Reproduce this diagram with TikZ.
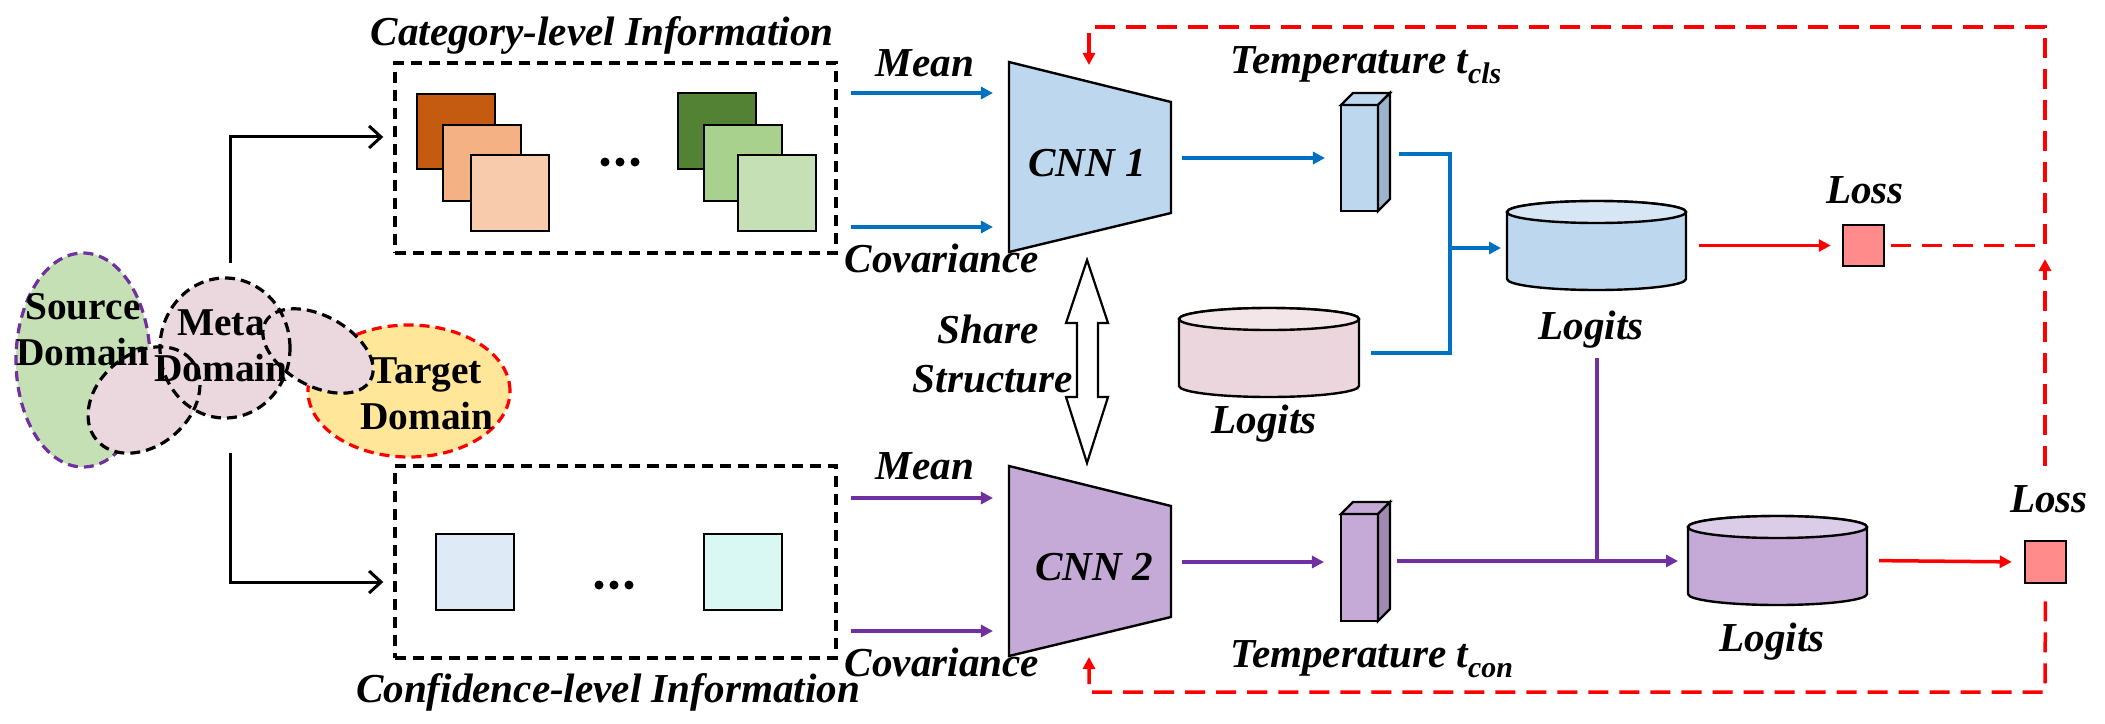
\documentclass[tikz,border=0pt]{standalone}
\usepackage{fontspec}
\setmainfont{Liberation Serif}
\usetikzlibrary{fit,arrows.meta,calc,shapes.geometric}
\definecolor{lblue}{HTML}{0070C0}
\definecolor{lpurple}{HTML}{7030A0}
\definecolor{or1}{HTML}{C55A11}
\definecolor{or2}{HTML}{F4B183}
\definecolor{or3}{HTML}{F8CBAD}
\definecolor{gr1}{HTML}{548235}
\definecolor{gr2}{HTML}{A9D18E}
\definecolor{gr3}{HTML}{C5E0B4}
\definecolor{sqa}{HTML}{DEEBF7}
\definecolor{sqb}{HTML}{DAF8F3}
\definecolor{srcg}{HTML}{C5E0B4}
\definecolor{tgty}{HTML}{FFE699}
\definecolor{metap}{HTML}{EBD8DE}
\definecolor{cnnb}{HTML}{BDD7EE}
\definecolor{cnnp}{HTML}{C5AAD7}
\definecolor{sideb}{HTML}{9CB3CB}
\definecolor{sidep}{HTML}{A08AB2}
\definecolor{pinkc}{HTML}{EAD6DC}
\definecolor{pinkt}{HTML}{F2E6E9}
\definecolor{bluet}{HTML}{D7E6F4}
\definecolor{purpt}{HTML}{DBCCE8}
\definecolor{lossr}{HTML}{FF8B8B}
\begin{document}
\begin{tikzpicture}[x=0.01cm,y=0.01cm,
  lbl/.style={font=\fontsize{11.7}{14}\selectfont\bfseries\itshape, inner sep=0pt},
  dom/.style={font=\fontsize{11.2}{13.1}\selectfont\bfseries, align=center, inner sep=0pt},
  dbox/.style={draw, line width=0.034cm, dash pattern=on 0.11cm off 0.07cm, inner sep=0pt},
  sqr/.style={draw, line width=0.025cm, inner sep=0pt},
  ghost/.style={inner sep=0pt, outer sep=0pt},
  shp/.style={line width=0.024cm},
  tip/.style={-{Triangle[length=0.12cm,width=0.12cm]}},
  barrow/.style={lblue, line width=0.035cm, tip},
  bline/.style={lblue, line width=0.035cm},
  parrow/.style={lpurple, line width=0.035cm, tip},
  pline/.style={lpurple, line width=0.035cm},
  rarrow/.style={red, line width=0.035cm, tip},
  rdash/.style={red, line width=0.035cm, dash pattern=on 0.2cm off 0.11cm},
  karrow/.style={line width=0.03cm, -{Straight Barb[length=0.12cm,width=0.22cm]}},
  edash/.style={line width=0.032cm, dash pattern=on 0.1cm off 0.06cm},
]
\useasboundingbox (0,0) rectangle (2105,-724);

% ---------- domains ----------
\fill[srcg] (83,-360) ellipse[x radius=67, y radius=107];
\draw[edash, lpurple] (83,-360) ellipse[x radius=67, y radius=107];
\fill[tgty] (409,-391) ellipse[x radius=101, y radius=66];
\draw[edash, red] (409,-391) ellipse[x radius=101, y radius=66];
\fill[metap] (225,-348) ellipse[x radius=65, y radius=70];
\fill[metap, rotate around={40:(144,-400)}] (144,-400) ellipse[x radius=62, y radius=46];
\fill[metap, rotate around={-29:(318,-351)}] (318,-351) ellipse[x radius=60, y radius=35];
\draw[edash] (225,-348) ellipse[x radius=65, y radius=70];
\draw[edash, rotate around={40:(144,-400)}] (144,-400) ellipse[x radius=62, y radius=46];
\draw[edash, rotate around={-29:(318,-351)}] (318,-351) ellipse[x radius=60, y radius=35];
\node[dom] (srcl) at (83,-330) {Source\\Domain};
\node[dom] (metal) at (221,-346) {Meta\\Domain};
\node[dom] (tgtl) at (427,-394) {Target\\Domain};

% ---------- information boxes ----------
\node[dbox, fit={(395,-63) (836,-253)}] (catbox) {};
\node[dbox, fit={(395,-466) (836,-658)}] (conbox) {};
\node[lbl, anchor=base] (cattitle) at (602,-45) {Category-level Information};
\node[lbl, anchor=base] (contitle) at (608,-702) {Confidence-level Information};

\node[sqr, fill=or1, fit={(417,-94) (495,-169)}] (o1) {};
\node[sqr, fill=or2, fit={(443,-125) (521,-201)}] (o2) {};
\node[sqr, fill=or3, fit={(471,-155) (549,-231)}] (o3) {};
\node[sqr, fill=gr1, fit={(678,-93) (756,-169)}] (g1) {};
\node[sqr, fill=gr2, fit={(704,-125) (782,-201)}] (g2) {};
\node[sqr, fill=gr3, fit={(738,-155) (816,-231)}] (g3) {};
\node[sqr, fill=sqa, fit={(436,-534) (514,-610)}] (c1) {};
\node[sqr, fill=sqb, fit={(704,-534) (782,-610)}] (c2) {};
\foreach \i/\xx/\yy in {1/605/162,2/620/162,3/635/162,4/599/585,5/614/585,6/629/585}
  \fill (\xx,-\yy) circle[radius=4.5];

% black arrows
\coordinate (kt) at (230,-263);
\coordinate (kb) at (230,-453);
\draw[karrow, shorten >=0.1cm] (kt) |- ([yshift=0.21cm]catbox.west);
\draw[karrow, shorten >=0.1cm] (kb) |- ([yshift=-0.2cm]conbox.west);

% ---------- CNNs ----------
\node[ghost, fit={(1009,-62) (1171,-252)}] (cnn1) {};
\filldraw[shp, fill=cnnb] (1009,-62) -- (1171,-102) -- (1171,-213) -- (1009,-252) -- cycle;
\node[lbl, anchor=base] (cnn1l) at (1087,-176) {CNN 1};
\node[ghost, fit={(1009,-466) (1171,-656)}] (cnn2) {};
\filldraw[shp, fill=cnnp] (1009,-466) -- (1171,-506) -- (1171,-617) -- (1009,-656) -- cycle;
\node[lbl, anchor=base] (cnn2l) at (1094,-580) {CNN 2};

\node[lbl, anchor=base] (mean1) at (925,-76) {Mean};
\node[lbl, anchor=base] (cov1) at (942,-272) {Covariance};
\node[lbl, anchor=base] (mean2) at (925,-479) {Mean};
\node[lbl, anchor=base] (cov2) at (942,-676) {Covariance};

\draw[barrow, shorten <=0.13cm, shorten >=0.16cm] (catbox.east |- 0,-93) -- (cnn1.west |- 0,-93);
\draw[barrow, shorten <=0.13cm, shorten >=0.16cm] (catbox.east |- 0,-227) -- (cnn1.west |- 0,-227);
\draw[parrow, shorten <=0.13cm, shorten >=0.16cm] (conbox.east |- 0,-498) -- (cnn2.west |- 0,-498);
\draw[parrow, shorten <=0.13cm, shorten >=0.16cm] (conbox.east |- 0,-631) -- (cnn2.west |- 0,-631);

% share structure arrow
\node[ghost, fit={(1066,-260) (1108,-463)}] (share) {};
\filldraw[line width=0.022cm, fill=white] (1087,-260) -- (1108,-323) -- (1098,-323) -- (1098,-397) -- (1108,-397)
  -- (1087,-463) -- (1066,-397) -- (1077,-397) -- (1077,-323) -- (1066,-323) -- cycle;
\node[lbl, anchor=base] (sharel) at (988,-343) {Share};
\node[lbl, anchor=base] (structl) at (993,-392) {Structure};

% ---------- temperature cuboids ----------
\node[ghost, fit={(1341,-93) (1390,-211)}] (temp1) {};
\filldraw[shp, fill=cnnb] (1341,-105) rectangle (1378,-211);
\filldraw[shp, fill=cnnb] (1341,-105) -- (1353,-93) -- (1390,-93) -- (1378,-105) -- cycle;
\filldraw[shp, fill=sideb] (1378,-105) -- (1390,-93) -- (1390,-199) -- (1378,-211) -- cycle;
\node[ghost, fit={(1341,-502) (1390,-621)}] (temp2) {};
\filldraw[shp, fill=cnnp] (1341,-514) rectangle (1378,-621);
\filldraw[shp, fill=cnnp] (1341,-514) -- (1353,-502) -- (1390,-502) -- (1378,-514) -- cycle;
\filldraw[shp, fill=sidep] (1378,-514) -- (1390,-502) -- (1390,-609) -- (1378,-621) -- cycle;
\node[lbl, anchor=base west] (tcls) at (1230,-73) {Temperature t\raisebox{-0.25em}{\fontsize{8.5}{9}\selectfont cls}};
\node[lbl, anchor=base west] (tcon) at (1230,-667) {Temperature t\raisebox{-0.25em}{\fontsize{8.5}{9}\selectfont con}};

\draw[barrow, shorten <=0.11cm, shorten >=0.16cm] (cnn1.east |- 0,-158) -- (temp1.west |- 0,-158);
\draw[parrow, shorten <=0.11cm, shorten >=0.17cm] (cnn2.east |- 0,-562) -- (temp2.west |- 0,-562);

% ---------- cylinders ----------
% pink
\node[ghost, fit={(1179,-308) (1359,-397)}] (pinkcyl) {};
\filldraw[shp, fill=pinkc] (1179,-319) -- (1179,-386) arc[start angle=180, end angle=360, x radius=90, y radius=11]
  -- (1359,-319) arc[start angle=0, end angle=180, x radius=90, y radius=11] -- cycle;
\filldraw[shp, fill=pinkt] (1269,-319) ellipse[x radius=90, y radius=11];
\node[lbl, anchor=base] (lgP) at (1264,-433) {Logits};
% blue
\node[ghost, fit={(1507,-201) (1686,-290)}] (bluecyl) {};
\filldraw[shp, fill=cnnb] (1507,-212) -- (1507,-279) arc[start angle=180, end angle=360, x radius=89.5, y radius=11]
  -- (1686,-212) arc[start angle=0, end angle=180, x radius=89.5, y radius=11] -- cycle;
\filldraw[shp, fill=bluet] (1596.5,-212) ellipse[x radius=89.5, y radius=11];
\node[lbl, anchor=base] (lgB) at (1591,-339) {Logits};
% purple
\node[ghost, fit={(1688,-516) (1867,-605)}] (purpcyl) {};
\filldraw[shp, fill=cnnp] (1688,-527) -- (1688,-594) arc[start angle=180, end angle=360, x radius=89.5, y radius=11]
  -- (1867,-527) arc[start angle=0, end angle=180, x radius=89.5, y radius=11] -- cycle;
\filldraw[shp, fill=purpt] (1777.5,-527) ellipse[x radius=89.5, y radius=11];
\node[lbl, anchor=base] (lgU) at (1772,-651) {Logits};

% blue merge
\coordinate (bj) at (1450,-248);
\draw[bline, shorten <=0.09cm, shorten >=0.12cm] (temp1.east |- 0,-154) -| (1450,-353) -- (pinkcyl.east |- 0,-353);
\draw[barrow, shorten >=0.06cm] (bj) -- (bluecyl.west |- bj);

% purple merge
\coordinate (pv) at (1597,-358);
\draw[parrow, shorten <=0.07cm, shorten >=0.1cm] (temp2.east |- 0,-561) -- (purpcyl.west |- 0,-561);
\draw[pline] (pv) -- (1597,-561);

% ---------- losses ----------
\node[sqr, fill=lossr, fit={(1843,-225) (1884,-266)}] (loss1) {};
\node[sqr, fill=lossr, fit={(2025,-541) (2066,-583)}] (loss2) {};
\node[lbl, anchor=base] (loss1l) at (1865,-203) {Loss};
\node[lbl, anchor=base] (loss2l) at (2049,-512) {Loss};
\draw[rarrow, shorten <=0.13cm, shorten >=0.11cm] (bluecyl.east) -- (loss1.west);
\draw[rarrow, shorten <=0.12cm, shorten >=0.12cm] (purpcyl.east) -- (loss2.west);

% feedback loops
\coordinate (fTR) at (2045,-27);
\coordinate (fTL) at (1089,-27);
\coordinate (fT) at (1089,-65);
\coordinate (fUs) at (2045,-466);
\coordinate (fUe) at (2045,-259);
\coordinate (fBR) at (2045,-692);
\coordinate (fBL) at (1089,-692);
\coordinate (fB) at (1089,-657);
\draw[rdash, tip, shorten <=0.06cm] (loss1.east) -- (loss1.east -| fTR) -- (fTR) -- (fTL) -- (fT);
\draw[rdash, tip] (fUs) -- (fUe);
\draw[rdash, tip, shorten <=0.17cm] (loss2.south) -- (fBR) -- (fBL) -- (fB);
\end{tikzpicture}
\end{document}
